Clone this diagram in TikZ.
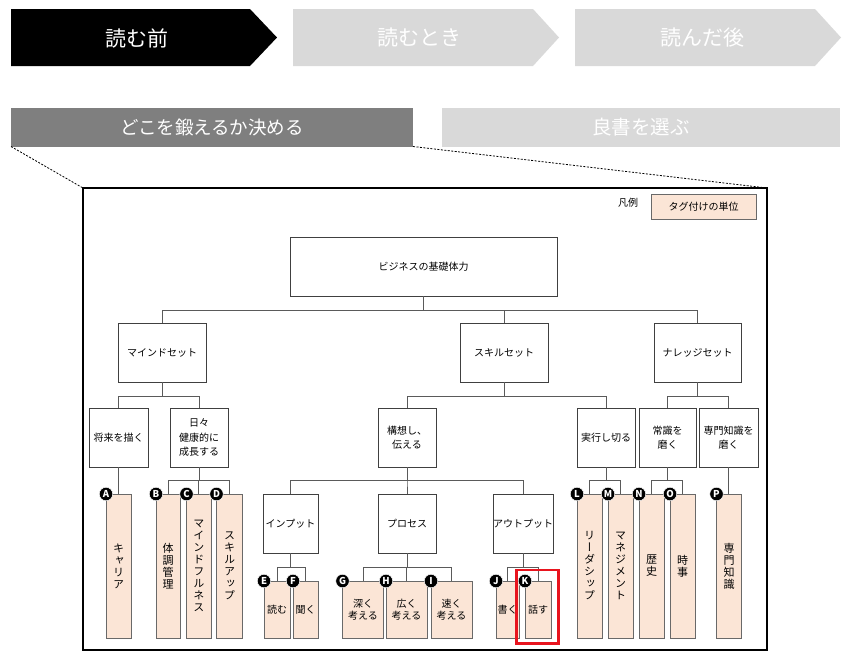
\documentclass[tikz,border=0pt]{standalone}
\usepackage{fontspec}
\setmainfont{Noto Sans CJK JP}
\newfontfamily\vjp{Noto Sans CJK JP}[RawFeature=+vert]
\usetikzlibrary{calc}
\definecolor{tagfill}{RGB}{251,229,214}
\definecolor{hdrgray}{RGB}{217,217,217}
\definecolor{selgray}{RGB}{127,127,127}
\definecolor{boxline}{RGB}{64,64,64}
\definecolor{tagline}{RGB}{105,105,105}
\definecolor{connline}{RGB}{90,90,90}
\definecolor{hl}{RGB}{232,20,30}
\newcommand\bx[7]{\node[#1, minimum width={#5-#3}, minimum height={#6-#4}] (#2) at ({(#3+#5)/2},{(#4+#6)/2}) {#7};}
\tikzset{
  box/.style={draw=boxline, line width=0.8pt, fill=white, inner sep=0pt, outer sep=0pt, align=center, text=black, font=\fontsize{10}{14.5}\selectfont},
  tagv/.style={draw=tagline, line width=0.8pt, fill=tagfill, inner sep=0pt, outer sep=0pt, align=center, text=black, font=\vjp\fontsize{11}{12}\selectfont},
  tagh/.style={draw=tagline, line width=0.8pt, fill=tagfill, inner sep=0pt, outer sep=0pt, align=center, text=black, font=\fontsize{10}{12}\selectfont},
  conn/.style={draw=connline, line width=0.8pt},
  circ/.style={circle, fill=black, draw=white, line width=0.5pt, minimum size=13.5pt, inner sep=0pt, text=white, font=\fontsize{9.5}{9.5}\selectfont\bfseries},
  hdr/.style={text=white, font=\fontsize{21}{24}\selectfont},
}
\begin{document}
\begin{tikzpicture}[x=1pt,y=-1pt]
\useasboundingbox (0,0) rectangle (848,657);
% header chevrons
\fill[black] (11,9) -- (250,9) -- (277,37.5) -- (250,66) -- (11,66) -- cycle;
\fill[hdrgray] (293,9) -- (533,9) -- (559,37.5) -- (533,66) -- (293,66) -- cycle;
\fill[hdrgray] (575,9) -- (815,9) -- (841,37.5) -- (815,66) -- (575,66) -- cycle;
\node[hdr] (h1) at (137,38) {読む前};
\node[hdr] (h2) at (419,38) {読むとき};
\node[hdr] (h3) at (702,38) {読んだ後};
% second row
\node[fill=selgray, minimum width=402pt, minimum height=39pt, inner sep=0pt, outer sep=0pt, text=white, font=\fontsize{18.5}{22}\selectfont] (sel) at (212,127) {どこを鍛えるか決める};
\node[fill=hdrgray, minimum width=398pt, minimum height=39pt, inner sep=0pt, outer sep=0pt, text=white, font=\fontsize{19.5}{22}\selectfont] (pick) at (641,127) {良書を選ぶ};
% frame
\node[draw=black, line width=1.4pt, minimum width=684pt, minimum height=462pt, inner sep=0pt, outer sep=0pt] (frame) at (425,419) {};
\draw[black, line width=0.8pt, dash pattern=on 2pt off 1.5pt] (sel.south west) -- (frame.north west);
\draw[black, line width=0.8pt, dash pattern=on 2pt off 1.5pt] (sel.south east) -- (frame.north east);
% legend
\node[font=\fontsize{10}{12}\selectfont] (lgl) at (628,203) {凡例};
\bx{tagh}{lg}{651}{194}{756}{219}{タグ付けの単位}
% root and level 1
\bx{box}{root}{290}{237}{557}{296}{ビジネスの基礎体力}
\bx{box}{ms}{118}{323}{206}{382}{マインドセット}
\bx{box}{ss}{460}{323}{548}{382}{スキルセット}
\bx{box}{ks}{654}{323}{741}{382}{ナレッジセット}
% level 2
\bx{box}{la}{89}{408}{148}{467}{将来を描く}
\bx{box}{lb}{170}{408}{228}{467}{日々\\健康的に\\成長する}
\bx{box}{lc}{378}{408}{436}{467}{構想し、\\伝える}
\bx{box}{ld}{577}{408}{635}{467}{実行し切る}
\bx{box}{le}{639}{408}{696}{467}{常識を\\磨く}
\bx{box}{lf}{699}{408}{758}{467}{専門知識を\\磨く}
% level 3
\bx{box}{inp}{263}{494}{318}{553}{インプット}
\bx{box}{pro}{378}{494}{436}{553}{プロセス}
\bx{box}{out}{496}{494}{550}{553}{アウトプット}
% tags (vertical)
\bx{tagv}{A}{106}{494}{131}{638}{キ\\ャ\\リ\\ア}
\bx{tagv}{B}{156}{494}{180}{638}{体\\調\\管\\理}
\bx{tagv}{C}{186.5}{494}{211}{638}{マ\\イ\\ン\\ド\\フ\\ル\\ネ\\ス}
\bx{tagv}{D}{216.5}{494}{242.5}{638}{ス\\キ\\ル\\ア\\ッ\\プ}
\bx{tagv}{L}{577}{494}{602}{638}{リ\\ー\\ダ\\シ\\ッ\\プ}
\bx{tagv}{M}{608}{494}{633}{638}{マ\\ネ\\ジ\\メ\\ン\\ト}
\bx{tagv}{N}{639}{494}{664}{638}{歴\\史}
\bx{tagv}{O}{670}{494}{695}{638}{時\\事}
\bx{tagv}{P}{716.5}{494}{741.5}{638}{専\\門\\知\\識}
% tags (horizontal)
\bx{tagh}{E}{264}{581}{290}{638}{読む}
\bx{tagh}{F}{293}{581}{318}{638}{聞く}
\bx{tagh}{G}{342.5}{581}{383.5}{638}{深く\\考える}
\bx{tagh}{H}{386}{581}{427}{638}{広く\\考える}
\bx{tagh}{I}{431}{581}{472}{638}{速く\\考える}
\bx{tagh}{J}{496}{581}{519}{638}{書く}
\bx{tagh}{K}{525}{581}{551}{638}{話す}
% connectors
\foreach \c in {ms,ss,ks} \draw[conn] (root.south) -- ++(0,14) -| (\c.north);
\foreach \c in {la,lb} \draw[conn] (ms.south) -- ++(0,14) -| (\c.north);
\foreach \c in {lc,ld} \draw[conn] (ss.south) -- ++(0,14) -| (\c.north);
\foreach \c in {le,lf} \draw[conn] (ks.south) -- ++(0,14) -| (\c.north);
\draw[conn] (la.south) -- (la.south |- A.north);
\foreach \c in {B,C,D} \draw[conn] (lb.south) -- ++(0,13) -| (\c.north);
\foreach \c in {inp,pro,out} \draw[conn] (lc.south) -- ++(0,13) -| (\c.north);
\foreach \c in {L,M} \draw[conn] (ld.south) -- ++(0,13) -| (\c.north);
\foreach \c in {N,O} \draw[conn] (le.south) -- ++(0,13) -| (\c.north);
\draw[conn] (lf.south) -- (lf.south |- P.north);
\foreach \c in {E,F} \draw[conn] (inp.south) -- ++(0,14) -| (\c.north);
\foreach \c in {G,H,I} \draw[conn] (pro.south) -- ++(0,14) -| (\c.north);
\foreach \c in {J,K} \draw[conn] (out.south) -- ++(0,14) -| (\c.north);
% letter markers
\foreach \c in {A,B,C,D,E,F,G,H,I,J,K,L,M,N,O,P} \node[circ] (c\c) at (\c.north west) {\c};
% highlight
\draw[hl, line width=2.6pt] (516.7,570) rectangle (558.3,643.5);
\end{tikzpicture}
\end{document}
